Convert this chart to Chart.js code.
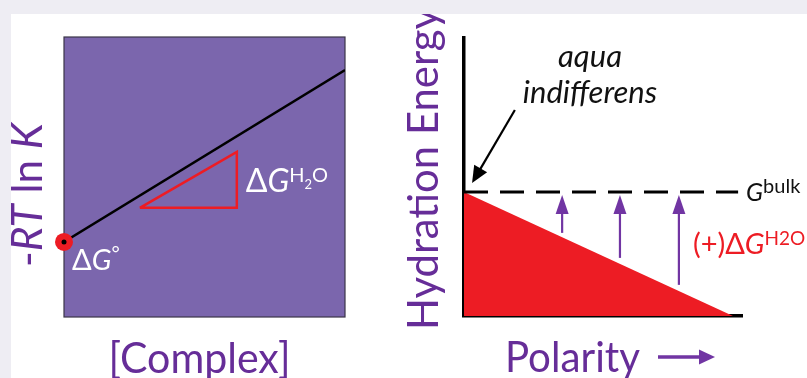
<!DOCTYPE html>
<html>
<head>
<meta charset="utf-8">
<script src="https://cdn.jsdelivr.net/npm/chart.js@4.4.0/dist/chart.umd.min.js"></script>
<style>
  body { margin: 0; background: #eeedf3; width: 807px; height: 378px; overflow: hidden; position: relative; }
  #sheet { position: absolute; left: 11px; top: 14px; width: 796px; height: 364px; background: #fff; }
  .panel { position: absolute; top: 0; height: 378px; }
  #left { left: 0; width: 400px; }
  #right { left: 400px; width: 407px; }
  #band { position: absolute; left: 0; top: 0; width: 807px; height: 14px; background: #eeedf3; z-index: 2; }
</style>
</head>
<body>
<div id="sheet"></div>
<div class="panel" id="left"><canvas id="complexChart"></canvas></div>
<div class="panel" id="right"><canvas id="polarityChart"></canvas></div>
<div id="band"></div>
<script>
// left panel: -RT ln K vs [Complex]
const complexX = [0, 10];
const rtlnK = [2.68, 8.82];
const triX = [2.7, 6.15, 6.15, 2.7];
const triY = [3.9, 5.9, 3.9, 3.9];

// right panel: hydration energy vs polarity
const polarityX = [0, 9.68];
const hydrationY = [4.46, 0];
const bulkX = [0, 9.86];
const bulkY = [4.46, 4.46];
const arrowX = [3.53, 5.61, 7.73];
const arrowBase = [2.99, 2.09, 1.12];
const pointerFrom = [1.83, 7.41];
const pointerTo = [0.29, 4.78];

const RED = "#ed1c24";
const BOX = "#7b66ad";
const PURPLE = "#662d98";
const ARROW = "#7135a3";
const SANS = "Lato, 'Open Sans', sans-serif";

const pts = (xs, ys) => xs.map((x, i) => ({ x: x, y: ys[i] }));

// draw a sequence of text pieces with their own fonts
function drawRuns(ctx, x, y, runs) {
  runs.forEach((r) => {
    ctx.font = r.font;
    ctx.fillStyle = r.color;
    ctx.fillText(r.t, x, y - (r.dy || 0));
    x += ctx.measureText(r.t).width;
  });
}

function runsWidth(ctx, runs) {
  let w = 0;
  runs.forEach((r) => { ctx.font = r.font; w += ctx.measureText(r.t).width; });
  return w;
}

// Lato is wider than the original font, so squeeze runs to a given width
function fitRuns(ctx, runs, x, y, width, center) {
  const w = runsWidth(ctx, runs);
  ctx.save();
  ctx.translate(x, y);
  ctx.scale(width / w, 1);
  drawRuns(ctx, center ? -w / 2 : 0, 0, runs);
  ctx.restore();
}

function drawArrow(ctx, x1, y1, x2, y2, lw, headLen, headW, color) {
  const a = Math.atan2(y2 - y1, x2 - x1);
  const bx = x2 - Math.cos(a) * headLen;
  const by = y2 - Math.sin(a) * headLen;
  ctx.strokeStyle = color;
  ctx.fillStyle = color;
  ctx.lineWidth = lw;
  ctx.beginPath();
  ctx.moveTo(x1, y1);
  ctx.lineTo(bx + Math.cos(a) * 2, by + Math.sin(a) * 2);
  ctx.stroke();
  ctx.beginPath();
  ctx.moveTo(x2, y2);
  ctx.lineTo(bx + Math.sin(a) * headW, by - Math.cos(a) * headW);
  ctx.lineTo(bx - Math.sin(a) * headW, by + Math.cos(a) * headW);
  ctx.closePath();
  ctx.fill();
}

const leftDecor = {
  id: "leftDecor",
  beforeDatasetsDraw(chart) {
    const { ctx, chartArea: a } = chart;
    ctx.save();
    ctx.fillStyle = BOX;
    ctx.fillRect(a.left, a.top, a.right - a.left, a.bottom - a.top);
    ctx.strokeStyle = "#3b3548";
    ctx.lineWidth = 1.2;
    ctx.strokeRect(a.left, a.top, a.right - a.left, a.bottom - a.top);
    ctx.restore();
  },
  afterDraw(chart) {
    const { ctx, chartArea: a, scales } = chart;
    const xs = scales.x, ys = scales.y;
    ctx.save();
    ctx.textBaseline = "alphabetic";
    ctx.textAlign = "left";

    // slope label
    drawRuns(ctx, xs.getPixelForValue(triX[1]) + 9, ys.getPixelForValue(triY[2]) - 16, [
      { t: "\u0394", font: "32px " + SANS, color: "#fff" },
      { t: "G", font: "italic 32px " + SANS, color: "#fff" },
      { t: "H", font: "20px " + SANS, color: "#fff", dy: 10 },
      { t: "2", font: "13px " + SANS, color: "#fff", dy: 3 },
      { t: "O", font: "20px " + SANS, color: "#fff", dy: 10 },
    ]);

    // intercept label
    drawRuns(ctx, xs.getPixelForValue(complexX[0]) + 8, ys.getPixelForValue(rtlnK[0]) + 28, [
      { t: "\u0394", font: "29px " + SANS, color: "#fff" },
      { t: "G", font: "italic 29px " + SANS, color: "#fff" },
      { t: "\u00b0", font: "20px " + SANS, color: "#fff", dy: 10 },
    ]);

    // x title
    fitRuns(ctx, [{ t: "[Complex]", font: "43px " + SANS, color: PURPLE }],
      (a.left + a.right) / 2 - 5, a.bottom + 56, 182, true);

    // y title, rotated
    ctx.translate(a.left - 22, (a.top + a.bottom) / 2 + 18);
    ctx.rotate(-Math.PI / 2);
    fitRuns(ctx, [
      { t: "-", font: "43px " + SANS, color: PURPLE },
      { t: "RT", font: "italic 43px " + SANS, color: PURPLE },
      { t: " ln ", font: "43px " + SANS, color: PURPLE },
      { t: "K", font: "italic 43px " + SANS, color: PURPLE },
    ], 0, 0, 144, true);
    ctx.restore();
  },
};

const rightDecor = {
  id: "rightDecor",
  afterDraw(chart) {
    const { ctx, chartArea: a, scales } = chart;
    const xs = scales.x, ys = scales.y;
    ctx.save();

    // purple arrows from the red wedge up to G bulk
    arrowX.forEach((x, i) => {
      const px = xs.getPixelForValue(x);
      drawArrow(ctx, px, ys.getPixelForValue(arrowBase[i]), px, ys.getPixelForValue(bulkY[0]) + 3, 2.2, 19, 6.5, ARROW);
    });

    // aqua indifferens pointer
    drawArrow(ctx, xs.getPixelForValue(pointerFrom[0]), ys.getPixelForValue(pointerFrom[1]),
      xs.getPixelForValue(pointerTo[0]), ys.getPixelForValue(pointerTo[1]), 2.2, 17, 7.5, "#000");

    ctx.textBaseline = "alphabetic";
    ctx.textAlign = "center";
    ctx.fillStyle = "#111";
    ctx.font = "italic 31px " + SANS;
    ctx.fillText("aqua", a.left + 126, 67);
    ctx.fillText("indifferens", a.left + 126, 103);

    // G bulk
    ctx.textAlign = "left";
    drawRuns(ctx, xs.getPixelForValue(bulkX[1]) + 8, ys.getPixelForValue(bulkY[0]) + 9, [
      { t: "G", font: "italic 25px " + SANS, color: "#111" },
      { t: "bulk", font: "20px " + SANS, color: "#111", dy: 8 },
    ]);

    // (+) dG H2O
    drawRuns(ctx, xs.getPixelForValue(arrowX[2]) + 14, ys.getPixelForValue(hydrationY[1]) - 62, [
      { t: "(+)\u0394", font: "29px " + SANS, color: RED },
      { t: "G", font: "italic 29px " + SANS, color: RED },
      { t: "H2O", font: "19px " + SANS, color: RED, dy: 9 },
    ]);

    // x title with arrow
    fitRuns(ctx, [{ t: "Polarity", font: "43px " + SANS, color: PURPLE }], a.left + 41, a.bottom + 56, 135, false);
    drawArrow(ctx, a.left + 194, a.bottom + 41, a.left + 251, a.bottom + 41, 3.5, 16, 7.5, ARROW);

    // y title, rotated
    ctx.translate(a.left - 26, a.bottom + 14);
    ctx.rotate(-Math.PI / 2);
    fitRuns(ctx, [{ t: "Hydration Energy", font: "43px " + SANS, color: PURPLE }], 0, 0, 322, false);
    ctx.restore();
  },
};

const hidden = { type: "linear", min: 0, max: 10, display: false };

new Chart(document.getElementById("complexChart"), {
  type: "scatter",
  data: {
    datasets: [
      { data: pts(complexX.slice(0, 1), rtlnK), pointRadius: 2.5, pointBackgroundColor: "#000", pointBorderWidth: 0, clip: false },
      { data: pts(complexX.slice(0, 1), rtlnK), pointRadius: 9, pointBackgroundColor: RED, pointBorderWidth: 0, clip: false },
      { data: pts(complexX, rtlnK), showLine: true, borderColor: "#000", borderWidth: 2.5, pointRadius: 0 },
      { data: pts(triX, triY), showLine: true, borderColor: RED, borderWidth: 2.5, pointRadius: 0, borderJoinStyle: "miter" },
    ],
  },
  options: {
    responsive: true,
    maintainAspectRatio: false,
    animation: false,
    layout: { padding: { left: 64, top: 37, right: 55, bottom: 61 } },
    plugins: { legend: { display: false }, tooltip: { enabled: false } },
    scales: { x: hidden, y: hidden },
  },
  plugins: [leftDecor],
});

const axisLine = {
  type: "linear",
  min: 0,
  max: 10,
  z: 1,
  grid: { display: false, drawTicks: false },
  ticks: { display: false },
  border: { display: true, color: "#000", width: 3.5 },
};

new Chart(document.getElementById("polarityChart"), {
  type: "scatter",
  data: {
    datasets: [
      { data: pts(bulkX, bulkY), showLine: true, borderColor: "#000", borderWidth: 3, borderDash: [24, 12], pointRadius: 0 },
      { data: pts(polarityX, hydrationY), showLine: true, borderWidth: 0, borderColor: RED, backgroundColor: RED, fill: "origin", pointRadius: 0 },
    ],
  },
  options: {
    responsive: true,
    maintainAspectRatio: false,
    animation: false,
    layout: { padding: { left: 64, top: 38, right: 65, bottom: 62 } },
    plugins: { legend: { display: false }, tooltip: { enabled: false } },
    scales: { x: axisLine, y: axisLine },
  },
  plugins: [rightDecor],
});
</script>
</body>
</html>
